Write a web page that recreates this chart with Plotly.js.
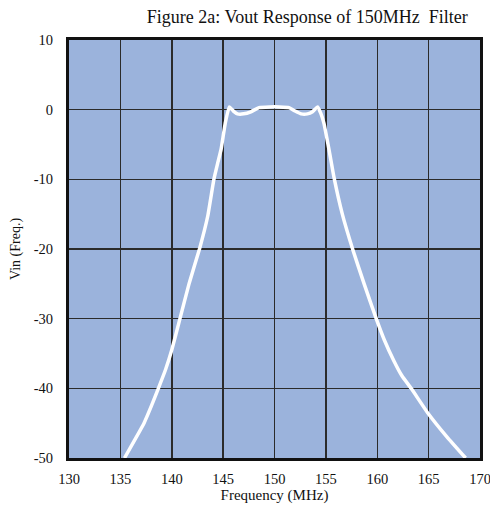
<!DOCTYPE html>
<html><head><meta charset="utf-8">
<script src="https://cdn.plot.ly/plotly-3.0.1.min.js"></script>
<style>body{margin:0;background:#fff}#chart{width:490px;height:508px}</style>
</head><body><div id="chart"></div>
<script>
var freqMHz = [135.4, 136.4, 137.3, 138.0, 138.7, 139.4, 140.0, 140.8, 141.7, 142.7, 143.5, 144.1, 144.5, 144.8, 145.2, 145.6, 146.0, 146.4, 147.0, 147.7, 148.5, 149.5, 150.5, 151.4, 152.0, 152.6, 153.2, 153.7, 154.2, 154.5, 154.8, 155.3, 155.8, 156.6, 157.6, 158.7, 159.9, 160.7, 161.6, 162.4, 163.3, 164.9, 166.8, 168.6];
var vinDb   = [-50, -47.4, -45, -42.6, -40, -37.3, -34.5, -30, -24.9, -20, -15.3, -10, -7.5, -5.7, -2, 0.4, -0.2, -0.6, -0.6, -0.3, 0.3, 0.4, 0.4, 0.3, -0.2, -0.6, -0.6, -0.3, 0.4, -0.5, -1.9, -5.7, -9.8, -15, -20, -24.9, -30, -33.1, -36.0, -38.2, -40, -43.5, -47, -50];
var xTicks = [130, 135, 140, 145, 150, 155, 160, 165, 170];
var yTicks = [-50, -40, -30, -20, -10, 0, 10];

var font = "'Liberation Serif', 'Times New Roman', serif";
Plotly.newPlot('chart', [{
  x: freqMHz, y: vinDb, type: 'scatter', mode: 'lines',
  line: {color: '#ffffff', width: 3.5, shape: 'spline', smoothing: 0.4},
  hoverinfo: 'skip'
}], {
  width: 490, height: 508,
  margin: {l: 69, r: 10, t: 40, b: 50},
  paper_bgcolor: '#ffffff', plot_bgcolor: '#9bb3dc',
  showlegend: false,
  font: {family: font, color: '#111111'},
  title: {text: 'Figure 2a: Vout Response of 150MHz  Filter', font: {family: font, size: 18, color: '#111'}, x: 0.627, xanchor: 'center', y: 0.968, yanchor: 'middle'},
  xaxis: {range: [130, 170], tickvals: xTicks, ticktext: xTicks.map(String), showgrid: true, gridcolor: '#2b2b2b', gridwidth: 1.5,
    showline: true, linecolor: '#111', linewidth: 3, mirror: true, zeroline: false, ticks: '', ticklen: 0, ticklabelstandoff: 6,
    ticklabeloverflow: 'allow',
    tickfont: {family: font, size: 14.5, color: '#111'},
    title: {text: 'Frequency (MHz)', font: {family: font, size: 15, color: '#111'}, standoff: 4}},
  yaxis: {range: [-50, 10], tickvals: yTicks, ticktext: yTicks.map(String), showgrid: true, gridcolor: '#2b2b2b', gridwidth: 1.5,
    showline: true, linecolor: '#111', linewidth: 3, mirror: true, zeroline: false, ticks: '', ticklen: 0, ticklabelstandoff: 10,
    ticklabeloverflow: 'allow',
    tickfont: {family: font, size: 14.5, color: '#111'},
    title: {text: 'Vin (Freq.)', font: {family: font, size: 14, color: '#111'}, standoff: 10}}
}, {displayModeBar: false, staticPlot: true});
</script></body></html>
